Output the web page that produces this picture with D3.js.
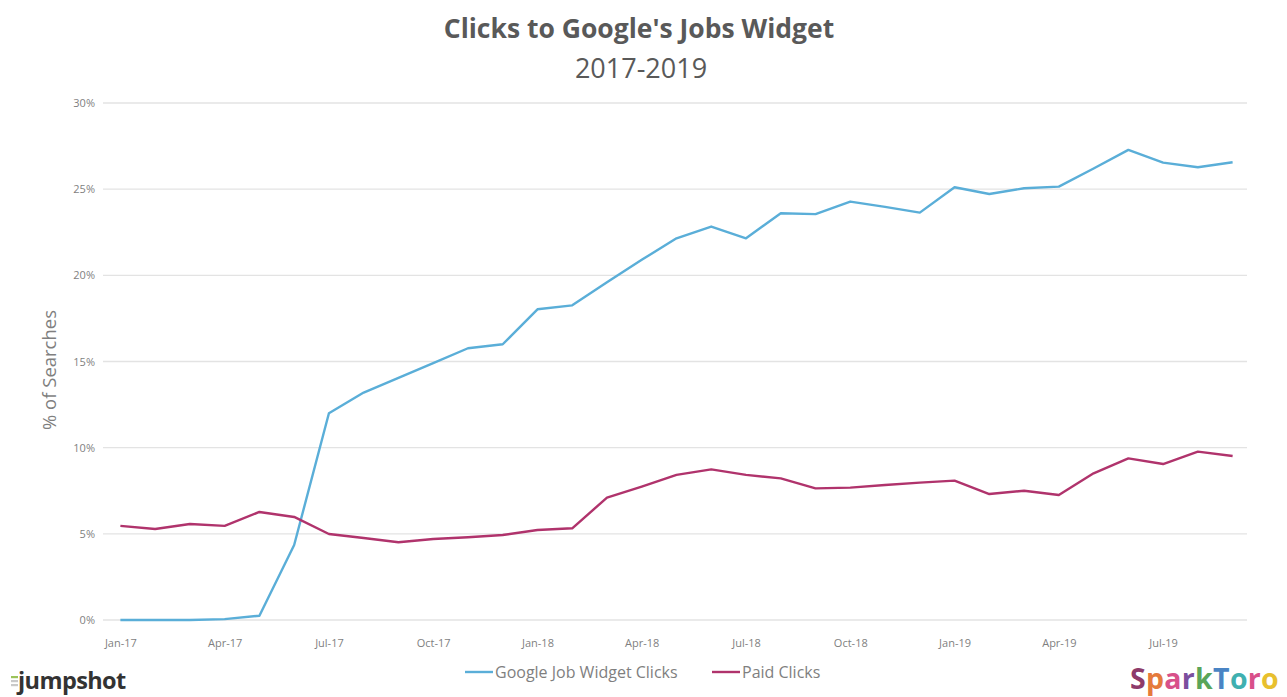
<!DOCTYPE html>
<html><head><meta charset="utf-8">
<script src="https://cdn.jsdelivr.net/npm/d3@7"></script>
<style>body{margin:0;background:#fff}svg{display:block}</style>
</head><body>
<svg id="c" width="1287" height="697"></svg>
<script>
const months = ["Jan-17","Feb-17","Mar-17","Apr-17","May-17","Jun-17","Jul-17","Aug-17","Sep-17","Oct-17","Nov-17","Dec-17",
"Jan-18","Feb-18","Mar-18","Apr-18","May-18","Jun-18","Jul-18","Aug-18","Sep-18","Oct-18","Nov-18","Dec-18",
"Jan-19","Feb-19","Mar-19","Apr-19","May-19","Jun-19","Jul-19","Aug-19","Sep-19"];
const widgetClicks = [0,0,0,0.05,0.25,4.35,12.0,13.2,14.05,14.9,15.77,16.0,18.03,18.26,19.6,20.9,22.15,22.83,22.15,23.6,23.55,
24.28,23.97,23.64,25.11,24.72,25.05,25.15,26.2,27.28,26.54,26.27,26.56];
const paidClicks = [5.46,5.28,5.57,5.46,6.27,5.98,4.99,4.76,4.51,4.7,4.8,4.93,5.22,5.32,7.1,7.74,8.42,8.74,8.42,8.22,7.64,
7.68,7.83,7.97,8.09,7.31,7.5,7.25,8.51,9.38,9.05,9.77,9.52];
const yTicks = [0,5,10,15,20,25,30];
const xTickLabels = ["Jan-17","Apr-17","Jul-17","Oct-17","Jan-18","Apr-18","Jul-18","Oct-18","Jan-19","Apr-19","Jul-19"];
const seriesNames = ["Google Job Widget Clicks","Paid Clicks"];
const colors = ["#5aaed8","#b0336c"];
const sparkLetters = ["S","p","a","r","k","T","o","r","o"];
const sparkColors = ["#8e3b6a","#e57a3c","#d8508a","#7b4f9e","#5aa55a","#4a84c4","#3fb0b0","#d8508a","#e8c02e"];

const svg = d3.select("#c");
const L = 103, R = 1250, T = 103, B = 620;
const x = d3.scalePoint().domain(months).range([L, R]).padding(0.5);
const y = d3.scaleLinear().domain([0,30]).range([B, T]);
const grey = "#7f7f7f";

// gridlines
svg.append("g").selectAll("line").data(yTicks).join("line")
  .attr("x1", L).attr("x2", R-3).attr("y1", d=>y(d)).attr("y2", d=>y(d))
  .attr("stroke", "#e3e3e3").attr("stroke-width", 1.3);

// y axis labels
const yAxis = d3.axisLeft(y).tickValues(yTicks).tickFormat(d=>d+"%").tickSize(0).tickPadding(0);
const gy = svg.append("g").attr("transform", `translate(${L-8},0)`).call(yAxis);
gy.select(".domain").remove();
gy.selectAll("text").attr("font-family","Open Sans").attr("font-size",11).attr("fill",grey);

// x axis labels
const xAxis = d3.axisBottom(x).tickValues(xTickLabels).tickSize(0).tickPadding(0);
const gx = svg.append("g").attr("transform", `translate(0,${B+19})`).call(xAxis);
gx.select(".domain").remove();
gx.selectAll("text").attr("font-family","Open Sans").attr("font-size",11).attr("fill",grey);

// lines
const line = d3.line().x((d,i)=>x(months[i])).y(d=>y(d));
[widgetClicks, paidClicks].forEach((s,k)=>{
  svg.append("path").datum(s).attr("d", line).attr("fill","none")
    .attr("stroke", colors[k]).attr("stroke-width", 2.4).attr("stroke-linejoin","round");
});

// titles
svg.append("text").attr("x", 639).attr("y", 38).attr("text-anchor","middle")
  .attr("font-family","Open Sans").attr("font-weight","bold").attr("font-size",26.5).attr("fill","#595959")
  .text("Clicks to Google's Jobs Widget");
svg.append("text").attr("x", 641).attr("y", 78).attr("text-anchor","middle")
  .attr("font-family","Open Sans").attr("font-size",27).attr("fill","#595959").text("2017-2019");

// y title
svg.append("text").attr("transform","translate(56,370) rotate(-90)").attr("text-anchor","middle")
  .attr("font-family","Open Sans").attr("font-size",18.5).attr("fill",grey).text("% of Searches");

// legend
const legX = [465, 712];
seriesNames.forEach((n,k)=>{
  const g = svg.append("g").attr("transform", `translate(${legX[k]},672)`);
  g.append("line").attr("x1",0).attr("x2",28).attr("stroke",colors[k]).attr("stroke-width",2.4);
  g.append("text").attr("x",30).attr("y",5.5).attr("font-family","Open Sans").attr("font-size",16)
    .attr("fill",grey).text(n);
});

// jumpshot logo
const jg = svg.append("g").attr("transform","translate(11,0)");
[["#9bc35a",676],["#c9c9c9",680],["#c9c9c9",684]].forEach(([c,yy])=>{
  jg.append("rect").attr("x",0).attr("y",yy).attr("width",7).attr("height",2.2).attr("fill",c);
});
svg.append("text").attr("x",18).attr("y",689).attr("font-family","Open Sans").attr("font-weight","bold")
  .attr("font-size",23.5).attr("fill","#333").attr("letter-spacing",-0.6).text("jumpshot");

// SparkToro logo
const st = svg.append("text").attr("x",1130).attr("y",689).attr("font-family","Open Sans").attr("font-weight","bold")
  .attr("font-size",28.5).attr("letter-spacing",0.3);
sparkLetters.forEach((ch,i)=>{ st.append("tspan").attr("fill",sparkColors[i]).text(ch); });
</script>
</body></html>
